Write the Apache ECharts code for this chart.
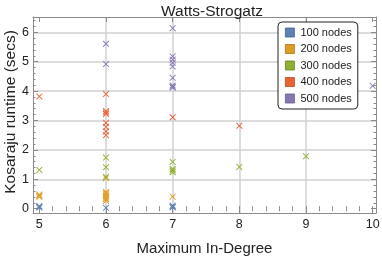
<!DOCTYPE html>
<html><head><meta charset="utf-8">
<script src="https://cdn.jsdelivr.net/npm/echarts@6/dist/echarts.min.js"></script>
<style>html,body{margin:0;padding:0;background:#fff}#c{width:382px;height:256px}</style>
</head><body><div id="c"></div>
<script>
var seriesNames = ['100 nodes', '200 nodes', '300 nodes', '400 nodes', '500 nodes'];
var seriesColors = ['#5E81B5', '#E19C24', '#8FB032', '#EB6235', '#8778B3'];
var seriesBorders = ['#3F5F8F', '#A8741A', '#6A8425', '#B04A28', '#655A88'];
var nodes100 = [[5,0.04],[5,0.06],[5,0.09],[6,0.03],[7,0.05],[7,0.07],[7,0.1]];
var nodes200 = [[5,0.4],[5,0.44],[5,0.48],[6,0.27],[6,0.33],[6,0.38],[6,0.43],[6,0.48],[6,0.53],[6,0.57],[6,1.04],[7,0.41]];
var nodes300 = [[5,1.32],[6,1.74],[6,1.41],[6,1.09],[7,1.59],[7,1.35],[7,1.3],[7,1.24],[8,1.42],[9,1.78]];
var nodes400 = [[5,3.82],[6,3.9],[6,3.32],[6,3.27],[6,3.22],[6,2.92],[6,2.78],[6,2.63],[6,2.5],[7,3.11],[8,2.82]];
var nodes500 = [[6,5.61],[6,4.92],[7,6.14],[7,5.18],[7,5.07],[7,4.96],[7,4.84],[7,4.45],[7,4.19],[7,4.14],[7,4.12],[10,4.18]];
var seriesData = [nodes100, nodes200, nodes300, nodes400, nodes500];
var xMajor = [5,6,7,8,9,10];
var xMinor = [5,5.2,5.4,5.6,5.8,6,6.2,6.4,6.6,6.8,7,7.2,7.4,7.6,7.8,8,8.2,8.4,8.6,8.8,9,9.2,9.4,9.6,9.8,10];
var xGrid = [6,7,8,9];
var yMajor = [0,1,2,3,4,5,6];
var yMinor = [0,0.2,0.4,0.6,0.8,1,1.2,1.4,1.6,1.8,2,2.2,2.4,2.6,2.8,3,3.2,3.4,3.6,3.8,4,4.2,4.4,4.6,4.8,5,5.2,5.4,5.6,5.8,6,6.2,6.4];
var yGrid = [1,2,3,4,5,6];
var xRange = [4.905, 10.05];
var yRange = [-0.146, 6.52];
var yTitle = 'Kosaraju runtime (secs)';

var FONT = 'Liberation Sans';
var frameColor = '#8a8a8a';
var crossPath = 'path://M0,1L1,0L5,4L9,0L10,1L6,5L10,9L9,10L5,6L1,10L0,9L4,5Z';

function frameAxis(pos, ticks, len, extra) {
  var a = {
    type: 'value', position: pos, min: null, max: null,
    axisLine: {show: true, onZero: false, lineStyle: {color: frameColor, width: 1}},
    axisTick: {show: true, inside: true, length: len, customValues: ticks, lineStyle: {color: frameColor, width: 1}},
    axisLabel: {show: false},
    splitLine: {show: false}
  };
  for (var k in extra) a[k] = extra[k];
  return a;
}
function gridAxis(pos, vals) {
  return {
    type: 'value', position: pos,
    axisLine: {show: false}, axisLabel: {show: false},
    axisTick: {show: false, customValues: vals},
    splitLine: {show: true, lineStyle: {color: '#d0d0d0', width: 1.5}}
  };
}
var xAxes = [
  frameAxis('bottom', xMajor, 5, {
    axisLabel: {show: true, customValues: xMajor, color: '#222', fontSize: 12.5, fontFamily: FONT, margin: 5},
    name: 'Maximum In-Degree', nameLocation: 'middle', nameGap: 28,
    nameTextStyle: {color: '#222', fontSize: 15, fontFamily: FONT}
  }),
  frameAxis('bottom', xMinor, 2.5, {axisLine: {show: false}}),
  frameAxis('top', xMajor, 5, {}),
  frameAxis('top', xMinor, 2.5, {axisLine: {show: false}}),
  gridAxis('bottom', xGrid)
];
var yAxes = [
  frameAxis('left', yMajor, 5, {
    axisLabel: {show: true, customValues: yMajor, color: '#222', fontSize: 12.5, fontFamily: FONT, margin: 4}
  }),
  frameAxis('left', yMinor, 2.5, {axisLine: {show: false}}),
  frameAxis('right', yMajor, 5, {}),
  frameAxis('right', yMinor, 2.5, {axisLine: {show: false}}),
  gridAxis('left', yGrid)
];
xAxes.forEach(function(a){ a.min = xRange[0]; a.max = xRange[1]; });
yAxes.forEach(function(a){ a.min = yRange[0]; a.max = yRange[1]; });

var series = seriesNames.map(function(n, i) {
  return {
    name: n, type: 'scatter', xAxisIndex: 0, yAxisIndex: 0,
    symbol: crossPath, symbolSize: 6.5,
    itemStyle: {color: seriesColors[i], opacity: 1},
    data: seriesData[i], z: 10
  };
});

var chart = echarts.init(document.getElementById('c'), null, {renderer: 'canvas'});
chart.setOption({
  animation: false,
  backgroundColor: '#fff',
  title: {text: 'Watts-Strogatz', left: 207, textAlign: 'center', top: -1,
    textStyle: {color: '#222', fontSize: 15.5, fontWeight: 'normal', fontFamily: FONT}},
  grid: {left: 33, right: 6, top: 17, bottom: 43, containLabel: false, outerBoundsMode: 'none'},
  graphic: [{
    type: 'text', x: 11, y: 112, rotation: Math.PI / 2,
    style: {text: yTitle, fill: '#222', fontSize: 15.5, fontFamily: FONT, align: 'center', verticalAlign: 'middle'}
  }],
  legend: {
    orient: 'vertical', left: 278, top: 22, padding: [5, 6, 5, 7],
    itemGap: 5.5, itemWidth: 9, itemHeight: 9,
    backgroundColor: '#fff', borderColor: '#222', borderWidth: 1, borderRadius: 4,
    textStyle: {color: '#222', fontSize: 11, fontFamily: FONT, padding: [0,0,0,1]},
    data: seriesNames.map(function(n, i) {
      return {name: n, icon: 'rect', itemStyle: {color: seriesColors[i], borderColor: seriesBorders[i], borderWidth: 0.8}};
    })
  },
  xAxis: xAxes,
  yAxis: yAxes,
  series: series
});
</script></body></html>
